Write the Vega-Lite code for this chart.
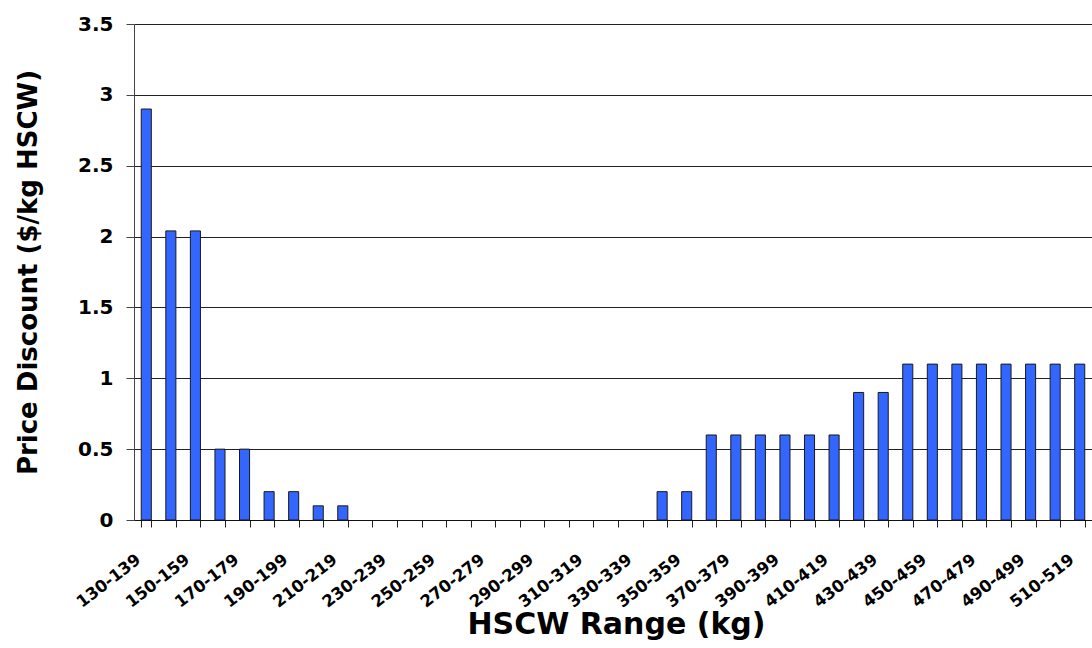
{
  "$schema": "https://vega.github.io/schema/vega-lite/v6.json",
  "autosize": {"type": "none"},
  "padding": {"left": 134, "top": 24, "right": 0, "bottom": 128},
  "width": 958,
  "height": 496,
  "background": "white",
  "config": {
    "view": {"stroke": null},
    "font": "DejaVu Sans"
  },
  "data": {
    "values": [
      {"hscw": "130-139", "price": 2.9},
      {"hscw": "140-149", "price": 2.04},
      {"hscw": "150-159", "price": 2.04},
      {"hscw": "160-169", "price": 0.5},
      {"hscw": "170-179", "price": 0.5},
      {"hscw": "180-189", "price": 0.2},
      {"hscw": "190-199", "price": 0.2},
      {"hscw": "200-209", "price": 0.1},
      {"hscw": "210-219", "price": 0.1},
      {"hscw": "220-229", "price": 0},
      {"hscw": "230-239", "price": 0},
      {"hscw": "240-249", "price": 0},
      {"hscw": "250-259", "price": 0},
      {"hscw": "260-269", "price": 0},
      {"hscw": "270-279", "price": 0},
      {"hscw": "280-289", "price": 0},
      {"hscw": "290-299", "price": 0},
      {"hscw": "300-309", "price": 0},
      {"hscw": "310-319", "price": 0},
      {"hscw": "320-329", "price": 0},
      {"hscw": "330-339", "price": 0},
      {"hscw": "340-349", "price": 0.2},
      {"hscw": "350-359", "price": 0.2},
      {"hscw": "360-369", "price": 0.6},
      {"hscw": "370-379", "price": 0.6},
      {"hscw": "380-389", "price": 0.6},
      {"hscw": "390-399", "price": 0.6},
      {"hscw": "400-409", "price": 0.6},
      {"hscw": "410-419", "price": 0.6},
      {"hscw": "420-429", "price": 0.9},
      {"hscw": "430-439", "price": 0.9},
      {"hscw": "440-449", "price": 1.1},
      {"hscw": "450-459", "price": 1.1},
      {"hscw": "460-469", "price": 1.1},
      {"hscw": "470-479", "price": 1.1},
      {"hscw": "480-489", "price": 1.1},
      {"hscw": "490-499", "price": 1.1},
      {"hscw": "500-509", "price": 1.1},
      {"hscw": "510-519", "price": 1.1}
    ]
  },
  "mark": {"type": "bar", "fill": "#3366ff", "stroke": "#1a1a1a", "strokeWidth": 1},
  "encoding": {
    "x": {
      "field": "hscw",
      "type": "nominal",
      "sort": null,
      "scale": {"paddingInner": 0.59, "paddingOuter": 0.295},
      "axis": {
        "title": "HSCW Range (kg)",
        "titleFont": "DejaVu Sans",
        "titleFontSize": 30,
        "titleFontWeight": "bold",
        "titleColor": "black",
        "titleBaseline": "alphabetic",
        "titleX": 482,
        "titleY": 113,
        "tickBand": "extent",
        "tickSize": 7,
        "tickColor": "#222",
        "domainColor": "#111",
        "labelExpr": "isString(datum.value) && toNumber(slice(datum.value, 0, 3)) % 20 == 10 ? datum.value : ''",
        "labelAngle": -38,
        "labelAlign": "right",
        "labelBaseline": "top",
        "labelOffset": -13,
        "labelPadding": 24,
        "labelFont": "DejaVu Sans",
        "labelFontSize": 16.5,
        "labelFontWeight": "bold",
        "labelColor": "black",
        "labelOverlap": false,
        "labelBound": false
      }
    },
    "y": {
      "field": "price",
      "type": "quantitative",
      "scale": {"domain": [0, 3.5], "nice": false},
      "axis": {
        "title": "Price Discount ($/kg HSCW)",
        "titleFont": "DejaVu Sans",
        "titleFontSize": 26,
        "titleFontWeight": "bold",
        "titleColor": "black",
        "titleAngle": 270,
        "titleBaseline": "alphabetic",
        "titleX": -98,
        "titleY": 248,
        "values": [0, 0.5, 1, 1.5, 2, 2.5, 3, 3.5],
        "format": "~g",
        "grid": true,
        "gridColor": "#222",
        "gridOpacity": 1,
        "gridWidth": 1,
        "domainColor": "#444",
        "tickColor": "#444",
        "tickSize": 8,
        "labelPadding": 13,
        "labelFont": "DejaVu Sans",
        "labelFontSize": 20,
        "labelFontWeight": "bold",
        "labelColor": "black"
      }
    },
    "opacity": {
      "condition": {"test": "datum.price > 0", "value": 1},
      "value": 0
    }
  }
}
